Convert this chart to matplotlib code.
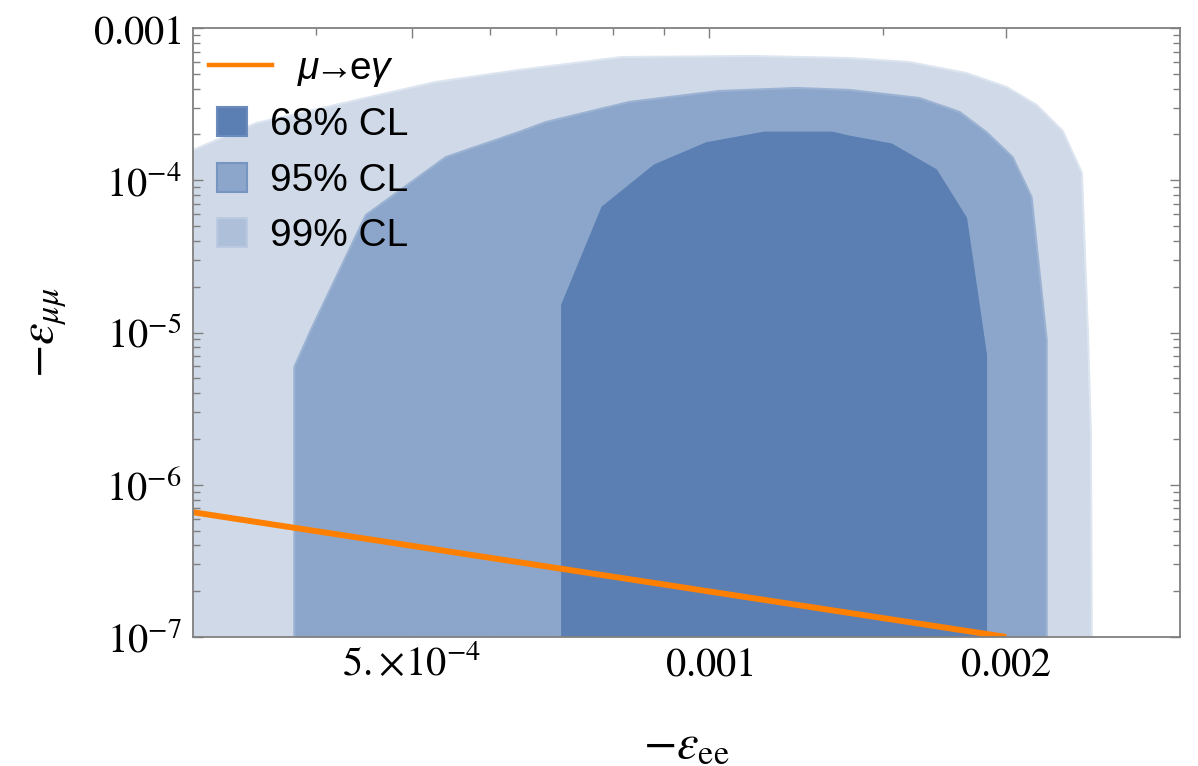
import numpy as np
import matplotlib.pyplot as plt
import matplotlib.patches as mpatches
from matplotlib.lines import Line2D
from matplotlib.ticker import FixedLocator, FixedFormatter, LogLocator, NullFormatter

plt.rcParams['font.family'] = ['Liberation Sans', 'DejaVu Sans']
plt.rcParams['mathtext.fontset'] = 'stix'
plt.rcParams['mathtext.it'] = 'Liberation Sans:italic'
plt.rcParams['mathtext.rm'] = 'Liberation Sans'

# 99% CL region (-eps_ee, -eps_mumu)
cl99_x = [3.0e-4, 3.48e-4, 5.28e-4, 6.41e-4, 8.16e-4, 1.106e-3, 1.387e-3, 1.596e-3,
          1.823e-3, 2.002e-3, 2.148e-3, 2.282e-3, 2.386e-3, 2.420e-3, 2.437e-3, 2.442e-3, 3.0e-4]
cl99_y = [1.58e-4, 2.38e-4, 4.42e-4, 5.30e-4, 6.45e-4, 6.55e-4, 6.35e-4, 5.98e-4,
          5.06e-4, 4.10e-4, 3.12e-4, 2.11e-4, 1.12e-4, 1.01e-5, 2.09e-6, 1.0e-7, 1.0e-7]

# 95% CL region
cl95_x = [3.80e-4, 3.80e-4, 3.95e-4, 4.28e-4, 4.49e-4, 5.41e-4, 6.41e-4, 6.83e-4, 8.30e-4,
          1.024e-3, 1.226e-3, 1.387e-3, 1.634e-3, 1.794e-3, 1.910e-3, 2.030e-3, 2.122e-3,
          2.198e-3, 2.198e-3]
cl95_y = [1.0e-7, 5.93e-6, 1.04e-5, 3.09e-5, 5.91e-5, 1.42e-4, 2.07e-4, 2.41e-4, 3.27e-4,
          3.86e-4, 4.04e-4, 3.92e-4, 3.47e-4, 2.81e-4, 2.07e-4, 1.42e-4, 7.76e-5,
          8.93e-6, 1.0e-7]

# 68% CL region
cl68_x = [7.09e-4, 7.09e-4, 7.79e-4, 8.80e-4, 9.93e-4, 1.137e-3, 1.333e-3, 1.387e-3,
          1.531e-3, 1.700e-3, 1.823e-3, 1.910e-3, 1.910e-3]
cl68_y = [1.0e-7, 1.52e-5, 6.67e-5, 1.26e-4, 1.76e-4, 2.07e-4, 2.07e-4, 1.95e-4,
          1.73e-4, 1.17e-4, 5.65e-5, 7.11e-6, 1.0e-7]

# mu -> e gamma bound
meg_x = [3.0e-4, 2.0e-3]
meg_y = [6.6e-7, 1.0e-7]

x_ticks = [5e-4, 1e-3, 2e-3]
x_tick_labels = [r'$5.\!\times\!10^{-4}$', r'$0.001$', r'$0.002$']
x_minor = [4e-4, 6e-4, 7e-4, 8e-4, 9e-4, 1.5e-3]
y_ticks = [1e-7, 1e-6, 1e-5, 1e-4, 1e-3]
y_tick_labels = [r'$10^{-7}$', r'$10^{-6}$', r'$10^{-5}$', r'$10^{-4}$', r'$0.001$']

cl_labels = ['68% CL', '95% CL', '99% CL']

fig = plt.figure(figsize=(11.98, 7.66), dpi=100)
ax = fig.add_axes([0.1611, 0.1684, 0.8239, 0.7950])
ax.set_xscale('log')
ax.set_yscale('log')

ax.fill(cl99_x, cl99_y, facecolor='#CFD9E7', edgecolor='#DDE5F0', lw=1.5, zorder=1)
ax.fill(cl95_x, cl95_y, facecolor='#8BA6CA', edgecolor='#9BB2D3', lw=1.5, zorder=2)
ax.fill(cl68_x, cl68_y, facecolor='#5B7FB3', edgecolor='#5B7FB3', lw=0.8, zorder=3)
ax.plot(meg_x, meg_y, color='#FF8000', lw=4.3, zorder=4, solid_capstyle='butt')

ax.set_xlim(3e-4, 3e-3)
ax.set_ylim(1e-7, 1e-3)

ax.xaxis.set_major_locator(FixedLocator(x_ticks))
ax.xaxis.set_major_formatter(FixedFormatter(x_tick_labels))
ax.xaxis.set_minor_locator(FixedLocator(x_minor))
ax.xaxis.set_minor_formatter(NullFormatter())
ax.yaxis.set_major_locator(FixedLocator(y_ticks))
ax.yaxis.set_major_formatter(FixedFormatter(y_tick_labels))
ax.yaxis.set_minor_locator(LogLocator(base=10, subs=np.arange(2, 10), numticks=20))
ax.yaxis.set_minor_formatter(NullFormatter())

ax.tick_params(which='both', direction='in', top=True, right=True, color='#7F7F7F', width=1.0)
ax.tick_params(which='major', length=7, labelsize=29)
ax.tick_params(axis='x', which='major', pad=6)
ax.tick_params(axis='y', which='major', pad=8)
ax.tick_params(which='minor', length=5)
for s in ax.spines.values():
    s.set_color('#808080')
    s.set_linewidth(1.3)
    s.set_zorder(6)

ax.set_xlabel(r'$-\varepsilon_{\mathrm{ee}}$', fontsize=35)
ax.xaxis.set_label_coords(0.5, -0.14)
ax.set_ylabel(r'$-\varepsilon_{\mu\mu}$', fontsize=35)
ax.yaxis.set_label_coords(-0.126, 0.5)

# legend: line entry and CL squares
h_line = Line2D([], [], color='#FF8000', lw=3.2)
leg1 = ax.legend([h_line], [r'$\mathit{\mu}\!\!\rightarrow\!\!\mathrm{e}\mathit{\gamma}$'],
                 loc='center left', bbox_to_anchor=(0.0162, 0.931), frameon=False,
                 fontsize=28, handlelength=1.62, handletextpad=0.64, borderpad=0,
                 borderaxespad=0)
leg1.get_texts()[0].set_math_fontfamily('custom')
ax.add_artist(leg1)

squares = [mpatches.Patch(facecolor='#5B7FB3', edgecolor='#6A8BBB', lw=1.5),
           mpatches.Patch(facecolor='#8BA6CA', edgecolor='#7695C1', lw=1.5),
           mpatches.Patch(facecolor='#AEBFDA', edgecolor='#BCCAE1', lw=1.5)]
leg2 = ax.legend(squares, cl_labels, loc='center left', bbox_to_anchor=(0.0243, 0.749),
                 frameon=False, fontsize=28, handlelength=0.77, handleheight=0.77,
                 handletextpad=0.59, labelspacing=0.5, borderpad=0, borderaxespad=0)

fig.savefig('out.png', dpi=100)
